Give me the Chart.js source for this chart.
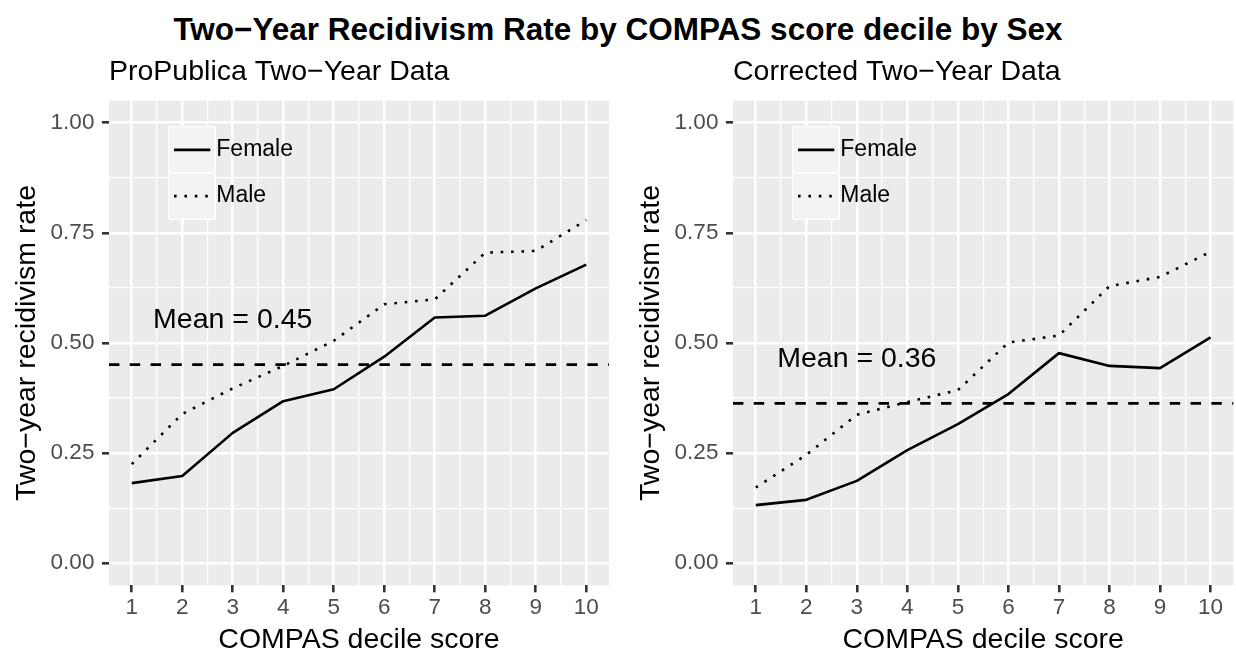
<!DOCTYPE html>
<html>
<head>
<meta charset="utf-8">
<script src="https://cdn.jsdelivr.net/npm/chart.js@4.4.1/dist/chart.umd.min.js"></script>
<style>
  body { margin: 0; background: #fff; width: 1236px; height: 656px; overflow: hidden; position: relative; font-family: "Liberation Sans", Arial, sans-serif; }
  #title { position: absolute; left: 0; top: 11px; width: 1236px; text-align: center; font-weight: bold; font-size: 31.5px; line-height: normal; color: #000; }
  canvas { position: absolute; top: 0; }
</style>
</head>
<body>
<div id="title">Two−Year Recidivism Rate by COMPAS score decile by Sex</div>
<canvas id="left" width="618" height="656" style="left:0"></canvas>
<canvas id="right" width="612" height="656" style="left:624px"></canvas>
<script>
// data
const deciles = [1, 2, 3, 4, 5, 6, 7, 8, 9, 10];
const xTicks = [1, 2, 3, 4, 5, 6, 7, 8, 9, 10];
const yTicks = [0, 0.25, 0.5, 0.75, 1];

const propublicaFemale = [0.182, 0.198, 0.296, 0.368, 0.395, 0.469, 0.558, 0.562, 0.624, 0.678];
const propublicaMale = [0.225, 0.339, 0.397, 0.448, 0.505, 0.588, 0.599, 0.705, 0.709, 0.779];
const propublicaMean = 0.451;

const correctedFemale = [0.132, 0.144, 0.187, 0.257, 0.316, 0.384, 0.477, 0.448, 0.443, 0.513];
const correctedMale = [0.172, 0.246, 0.337, 0.366, 0.393, 0.501, 0.517, 0.629, 0.650, 0.707];
const correctedMean = 0.363;

const meanLabelX = 3;
const meanLabelOffset = 0.1;

const FONT = '"Liberation Sans", Arial, sans-serif';

// major + minor grid positions (minor halfway between breaks)
const halfway = arr => arr.flatMap((v, i) => i < arr.length - 1 ? [v, (v + arr[i + 1]) / 2] : [v]);
const xGrid = halfway(xTicks);
const yGrid = halfway(yTicks);

const panelDecor = {
  id: 'panelDecor',
  beforeDraw(chart) {
    const { ctx, chartArea: a } = chart;
    ctx.save();
    ctx.fillStyle = '#EBEBEB';
    ctx.fillRect(a.left, a.top, a.right - a.left, a.bottom - a.top);
    ctx.restore();
  },
  afterDatasetsDraw(chart, args, opts) {
    const { ctx, chartArea: a, scales } = chart;
    ctx.save();
    // mean line
    const my = scales.y.getPixelForValue(opts.mean);
    ctx.strokeStyle = '#000';
    ctx.lineWidth = 2.6;
    ctx.setLineDash([10.4, 10.4]);
    ctx.beginPath();
    ctx.moveTo(a.left, my);
    ctx.lineTo(a.right, my);
    ctx.stroke();
    ctx.setLineDash([]);
    // mean label
    ctx.fillStyle = '#000';
    ctx.font = '28.5px ' + FONT;
    ctx.textAlign = 'center';
    ctx.textBaseline = 'middle';
    ctx.fillText('Mean = ' + opts.mean.toFixed(2),
      scales.x.getPixelForValue(meanLabelX), scales.y.getPixelForValue(opts.mean + meanLabelOffset));

    // legend keys
    const size = 46.3;
    const x0 = a.left + 60, y0 = a.top + 26;
    chart.data.datasets.forEach((ds, i) => {
      const ky = y0 + i * size;
      ctx.fillStyle = '#F2F2F2';
      ctx.fillRect(x0, ky, size, size);
      ctx.strokeStyle = '#fff';
      ctx.lineWidth = 1.3;
      ctx.strokeRect(x0, ky, size, size);
      ctx.strokeStyle = ds.borderColor;
      ctx.lineWidth = ds.borderWidth;
      ctx.setLineDash(ds.borderDash || []);
      ctx.beginPath();
      ctx.moveTo(x0 + 5, ky + size / 2);
      ctx.lineTo(x0 + size - 5, ky + size / 2);
      ctx.stroke();
      ctx.setLineDash([]);
      ctx.fillStyle = '#000';
      ctx.font = '23px ' + FONT;
      ctx.textAlign = 'left';
      ctx.fillText(ds.label, x0 + size + 1, ky + size / 2);
    });

    // panel subtitle
    ctx.font = '28.5px ' + FONT;
    ctx.textAlign = 'left';
    ctx.fillText(opts.subtitle, a.left, 72);
    ctx.restore();
  }
};

function makePanel(id, subtitle, female, male, mean, rightPad) {
  const gridWidth = v => (xTicks.includes(v) || yTicks.includes(v)) ? 2.6 : 1.3;
  new Chart(document.getElementById(id), {
    type: 'line',
    data: {
      datasets: [
        {
          label: 'Female',
          data: deciles.map((d, i) => ({ x: d, y: female[i] })),
          borderColor: '#000', borderWidth: 2.6, pointRadius: 0, tension: 0,
          borderJoinStyle: 'round', borderCapStyle: 'butt', fill: false
        },
        {
          label: 'Male',
          data: deciles.map((d, i) => ({ x: d, y: male[i] })),
          borderColor: '#000', borderWidth: 2.6, pointRadius: 0, tension: 0,
          borderDash: [2.6, 7.8], borderJoinStyle: 'round', borderCapStyle: 'butt', fill: false
        }
      ]
    },
    options: {
      responsive: false,
      animation: false,
      devicePixelRatio: 1,
      layout: { padding: { top: 100.7, right: rightPad, bottom: 0, left: 0 } },
      plugins: {
        legend: { display: false },
        tooltip: { enabled: false },
        panelDecor: { mean: mean, subtitle: subtitle }
      },
      scales: {
        x: {
          type: 'linear', min: 0.55, max: 10.45,
          afterBuildTicks: s => { s.ticks = xGrid.map(v => ({ value: v })); },
          afterFit: s => { s.height = 70.7; },
          border: { display: false },
          grid: {
            color: '#fff',
            lineWidth: c => gridWidth(c.tick.value),
            drawTicks: true, tickLength: 7, tickWidth: 2.6,
            tickColor: c => xTicks.includes(c.tick.value) ? '#333333' : 'rgba(0,0,0,0)'
          },
          ticks: {
            autoSkip: false, maxRotation: 0, padding: 2, color: '#4D4D4D',
            font: { family: FONT, size: 22.5 },
            callback: v => xTicks.includes(v) ? String(v) : ''
          },
          title: {
            display: true, text: 'COMPAS decile score', color: '#000',
            font: { family: FONT, size: 28.5, lineHeight: 1 },
            padding: { top: 0, bottom: 1.75 }
          }
        },
        y: {
          type: 'linear', min: -0.05, max: 1.05,
          afterBuildTicks: s => { s.ticks = yGrid.map(v => ({ value: v })); },
          afterFit: s => { s.width = 109; },
          border: { display: false },
          grid: {
            color: '#fff',
            lineWidth: c => gridWidth(c.tick.value),
            drawTicks: true, tickLength: 7, tickWidth: 2.6,
            tickColor: c => yTicks.includes(c.tick.value) ? '#333333' : 'rgba(0,0,0,0)'
          },
          ticks: {
            autoSkip: false, padding: 7.6, color: '#4D4D4D',
            font: { family: FONT, size: 22.5 },
            callback: v => yTicks.includes(v) ? v.toFixed(2) : ''
          },
          title: {
            display: true, text: 'Two−year recidivism rate', color: '#000',
            font: { family: FONT, size: 28.5, lineHeight: 1 },
            padding: { top: 12.75, bottom: 0 }
          }
        }
      }
    },
    plugins: [panelDecor]
  });
}

makePanel('left', 'ProPublica Two−Year Data', propublicaFemale, propublicaMale, propublicaMean, 9);
makePanel('right', 'Corrected Two−Year Data', correctedFemale, correctedMale, correctedMean, 2.7);
</script>
</body>
</html>
